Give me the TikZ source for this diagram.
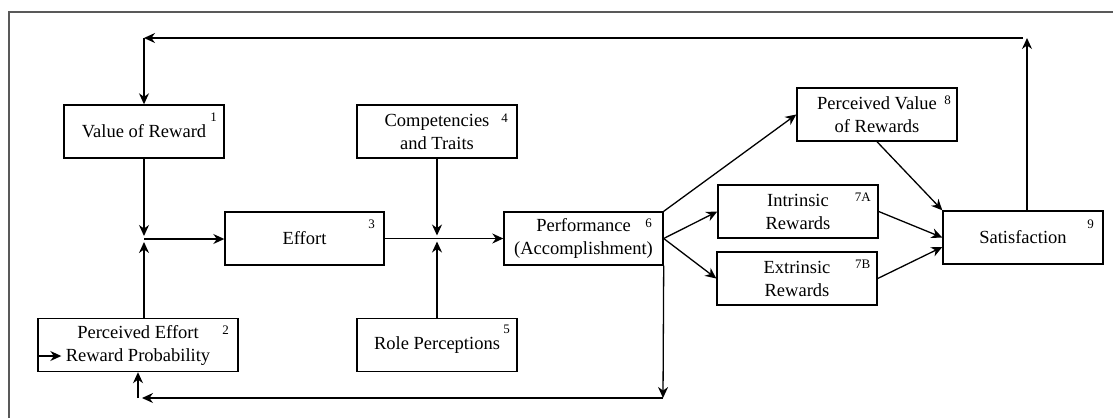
\documentclass[tikz,border=0pt]{standalone}
\usepackage{fontspec}
\setmainfont{Liberation Serif}
\usetikzlibrary{arrows.meta}

\tikzset{
  blk/.style={draw, line width=1.4pt, minimum width=160pt, minimum height=53pt,
    inner sep=0pt, align=center, font=\rmfamily\fontsize{18.5}{23}\selectfont},
  num/.style={inner sep=0pt, font=\rmfamily\fontsize{13}{13}\selectfont},
  arr/.style={-{Stealth[length=11pt,width=10pt]}, line width=1.3pt},
  ln/.style={line width=1.3pt}
}

\begin{document}
\begin{tikzpicture}[x=1pt, y=-1pt]
    \useasboundingbox (0,0) rectangle (1113,418);

    % Frame
    \draw[black!65, line width=1.5pt] (9,418) -- (9,12) -- (1113,12);

    % Boxes
    \node[blk] (vr) at (144,131.5) {Value of Reward};
    \node[blk, minimum width=200pt] (pe) at (138,345) {Perceived Effort\\Reward Probability};
    \node[blk, minimum width=159pt] (eff) at (304.5,238.5) {Effort};
    \node[blk] (comp) at (437,131.5) {Competencies\\and Traits};
    \node[blk] (role) at (437,345) {Role Perceptions};
    \node[blk, minimum width=159pt] (perf) at (583.5,238.5) {Performance\\(Accomplishment)};
    \node[blk] (pv) at (877,114.5) {Perceived Value\\of Rewards};
    \node[blk] (intr) at (798,211.5) {Intrinsic\\Rewards};
    \node[blk] (extr) at (797,278.5) {Extrinsic\\Rewards};
    \node[blk] (sat) at (1023,237.5) {Satisfaction};

    % Numbers
    \node[num] (n1) at ([shift={(-11,13)}]vr.north east) {1};
    \node[num] (n2) at ([shift={(-13,12)}]pe.north east) {2};
    \node[num] (n3) at ([shift={(-13,13)}]eff.north east) {3};
    \node[num] (n4) at ([shift={(-13,14)}]comp.north east) {4};
    \node[num] (n5) at ([shift={(-11,12)}]role.north east) {5};
    \node[num] (n6) at ([shift={(-15,12)}]perf.north east) {6};
    \node[num] (n7a) at ([shift={(-16,13)}]intr.north east) {7A};
    \node[num] (n7b) at ([shift={(-15,13)}]extr.north east) {7B};
    \node[num] (n8) at ([shift={(-10,13)}]pv.north east) {8};
    \node[num] (n9) at ([shift={(-13,14)}]sat.north east) {9};

    % Junctions and corners
    \coordinate (j1) at (144,239);
    \coordinate (j2) at (437,238.5);
    \coordinate (topR) at (1027,38);
    \coordinate (topL) at (144,38);
    \coordinate (botR) at (663,398);
    \coordinate (botL) at (138,398);

    % Effort inputs
    \draw[arr, shorten >=3pt] (vr.south) -- (j1);
    \draw[arr, shorten >=3pt] (pe.north -| j1) -- (j1);
    \draw[arr] (j1) -- (eff.west |- j1);
    \draw[arr, shorten >=1pt] ([yshift=-11]pe.west) -- ++(25,0);

    % Performance inputs
    \draw[arr, shorten >=3pt] (comp.south) -- (j2);
    \draw[arr, shorten >=3pt] (role.north) -- (j2);
    \draw[arr] (eff.east) -- (perf.west);

    % Rewards
    \draw[arr] (perf.north east) -- (pv.west);
    \draw[arr] (perf.east) -- (intr.west);
    \draw[arr] (perf.east) -- (extr.west);

    % Satisfaction
    \draw[arr] (pv.south) -- (sat.north west);
    \draw[arr] (intr.east) -- (sat.west);
    \draw[arr] (extr.east) -- ([yshift=-9.5]sat.west);

    % Feedback loops
    \draw[arr] ([xshift=4]sat.north) -- (topR);
    \draw[arr] ([xshift=-4]topR) -- (topL);
    \draw[arr] (topL) -- (vr.north);
    \draw[arr] (perf.south east) -- (botR);
    \draw[arr] (botR) -- ([xshift=4]botL);
    \draw[arr] (botL) -- (pe.south);

\end{tikzpicture}
\end{document}
